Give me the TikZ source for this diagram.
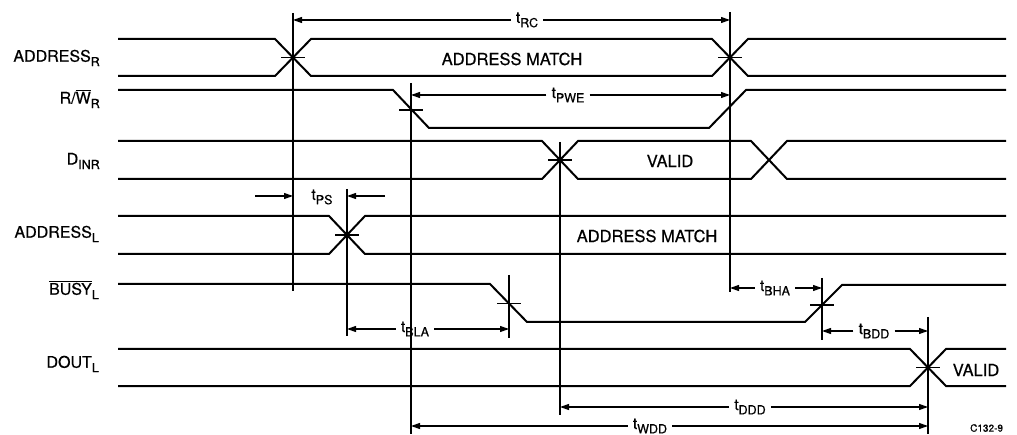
\documentclass[tikz,border=0pt]{standalone}
\usepackage{fontspec}
\setmainfont{TeX Gyre Heros}[FakeBold=0.5]
\usetikzlibrary{arrows.meta}
\newcommand\sbs[1]{\raisebox{-0.28em}{\fontsize{12.5}{13}\selectfont #1}}
\newcommand\myovl[1]{$\overline{\hbox{#1}}$}
\begin{document}
\begin{tikzpicture}[x=1pt,y=-1pt,
  sig/.style={line width=2pt, line join=miter},
  vline/.style={line width=1.2pt},
  dim/.style={line width=1.1pt,-{Triangle[length=9pt,width=6pt]}},
  tickmark/.style={line width=1.2pt},
  lbl/.style={font=\fontsize{16}{17}\selectfont, anchor=east, inner sep=0pt},
  txt/.style={font=\fontsize{16.5}{17}\selectfont, inner sep=0pt},
  tl/.style={font=\fontsize{15.5}{16}\selectfont, inner sep=5pt}]
\useasboundingbox (0,0) rectangle (1017,435);

% signal names
\node[lbl] (nAR) at (100,58) {ADDRESS\sbs{R}};
\node[lbl] (nRW) at (100,99) {R/\myovl{W}\sbs{R}};
\node[lbl] (nDI) at (100,161) {D\sbs{INR}};
\node[lbl] (nAL) at (99,234) {ADDRESS\sbs{L}};
\node[lbl] (nBU) at (99,290) {\myovl{BUSY}\sbs{L}};
\node[lbl] (nDO) at (99,364) {DOUT\sbs{L}};

% waveforms
\draw[sig] (118,39) -- (275,39) -- (311,76) -- (712,76) -- (748,39) -- (1006,39);
\draw[sig] (118,76) -- (275,76) -- (311,39) -- (712,39) -- (748,76) -- (1006,76);
\draw[sig] (118,90) -- (393,90) -- (429,128) -- (709,128) -- (746,90) -- (1006,90);
\draw[sig] (118,141) -- (542,141) -- (578,179) -- (751,179) -- (787,141) -- (1006,141);
\draw[sig] (118,179) -- (542,179) -- (578,141) -- (751,141) -- (787,179) -- (1006,179);
\draw[sig] (118,216) -- (329,216) -- (365,254) -- (1006,254);
\draw[sig] (118,254) -- (329,254) -- (365,216) -- (1006,216);
\draw[sig] (118,284) -- (490,284) -- (527,322) -- (805,322) -- (842,285) -- (1006,285);
\draw[sig] (118,349) -- (910,349) -- (946,386) -- (1006,386);
\draw[sig] (118,386) -- (910,386) -- (946,349) -- (1006,349);

% texts in waveforms
\node[txt] (tam1) at (512,59) {ADDRESS MATCH};
\node[txt] (tv1) at (670,161) {VALID};
\node[txt] (tam2) at (647,236) {ADDRESS MATCH};
\node[txt] (tv2) at (976,370) {VALID};

% crossing ticks
\draw[tickmark] (281,57.5) -- (305,57.5);
\draw[tickmark] (718,57.5) -- (742,57.5);
\draw[tickmark] (399,110) -- (423,110);
\draw[tickmark] (548,160) -- (572,160);
\draw[tickmark] (335,235) -- (359,235);
\draw[tickmark] (497,303.5) -- (521,303.5);
\draw[tickmark] (810,305) -- (834,305);
\draw[tickmark] (916,367.5) -- (940,367.5);

% vertical reference lines
\coordinate (v1t) at (293,13);  \coordinate (v1b) at (293,291);
\coordinate (v2t) at (411,83);  \coordinate (v2b) at (411,434);
\coordinate (v3t) at (730,12);  \coordinate (v3b) at (730,292);
\coordinate (v4t) at (560,142); \coordinate (v4b) at (560,415);
\coordinate (v5t) at (347,189); \coordinate (v5b) at (347,336);
\coordinate (v6t) at (509,275); \coordinate (v6b) at (509,338);
\coordinate (v7t) at (822,278); \coordinate (v7b) at (822,340);
\coordinate (v8t) at (928,317); \coordinate (v8b) at (928,434);
\foreach \i in {1,...,8} {\draw[vline] (v\i t) -- (v\i b);}

% timing arrows
\coordinate (rcL) at (293,20); \coordinate (rcR) at (730,20);
\node[tl] (lrc) at (527,20) {t\sbs{RC}};
\draw[dim] (lrc) -- (rcL); \draw[dim] (lrc) -- (rcR);

\coordinate (pweL) at (411,95); \coordinate (pweR) at (730,95);
\node[tl] (lpwe) at (568,95) {t\sbs{PWE}};
\draw[dim] (lpwe) -- (pweL); \draw[dim] (lpwe) -- (pweR);

\coordinate (psA) at (255,196); \coordinate (psL) at (293,196);
\coordinate (psB) at (385,196); \coordinate (psR) at (347,196);
\node[tl] (lps) at (322,197) {t\sbs{PS}};
\draw[dim] (psA) -- (psL); \draw[dim] (psB) -- (psR);

\coordinate (blaL) at (347,329); \coordinate (blaR) at (509,329);
\node[tl] (lbla) at (415,329) {t\sbs{BLA}};
\draw[dim] (lbla) -- (blaL); \draw[dim] (lbla) -- (blaR);

\coordinate (bhaL) at (730,288); \coordinate (bhaR) at (822,288);
\node[tl] (lbha) at (775,288) {t\sbs{BHA}};
\draw[dim] (lbha) -- (bhaL); \draw[dim] (lbha) -- (bhaR);

\coordinate (bddL) at (822,331); \coordinate (bddR) at (928,331);
\node[tl] (lbdd) at (874,331) {t\sbs{BDD}};
\draw[dim] (lbdd) -- (bddL); \draw[dim] (lbdd) -- (bddR);

\coordinate (dddL) at (560,407); \coordinate (dddR) at (928,407);
\node[tl] (lddd) at (750,407) {t\sbs{DDD}};
\draw[dim] (lddd) -- (dddL); \draw[dim] (lddd) -- (dddR);

\coordinate (wddL) at (411,426); \coordinate (wddR) at (928,426);
\node[tl] (lwdd) at (650,426) {t\sbs{WDD}};
\draw[dim] (lwdd) -- (wddL); \draw[dim] (lwdd) -- (wddR);

\node[font=\fontsize{10}{11}\selectfont, anchor=west, inner sep=0pt] (fig) at (970,428) {C132-9};
\end{tikzpicture}
\end{document}
